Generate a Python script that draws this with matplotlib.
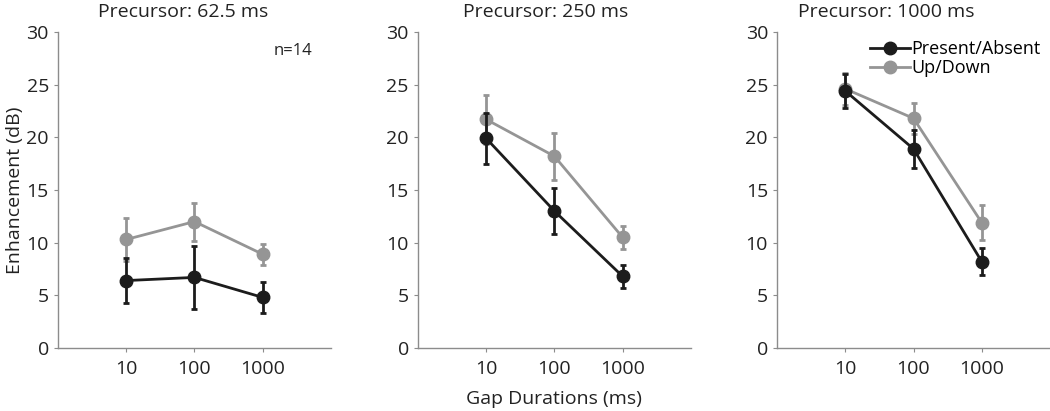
import matplotlib.pyplot as plt
from matplotlib.lines import Line2D

plt.rcParams['font.family'] = ['Open Sans', 'DejaVu Sans']

gaps = [10, 100, 1000]
titles = ['Precursor: 62.5 ms', 'Precursor: 250 ms', 'Precursor: 1000 ms']

# Present/Absent means and error bars per precursor
pa_mean = [[6.4, 6.7, 4.8], [19.9, 13.0, 6.8], [24.4, 18.9, 8.2]]
pa_err = [[2.1, 3.0, 1.5], [2.4, 2.2, 1.1], [1.6, 1.8, 1.25]]
# Up/Down means and error bars per precursor
ud_mean = [[10.3, 12.0, 8.9], [21.7, 18.2, 10.5], [24.6, 21.8, 11.9]]
ud_err = [[2.0, 1.8, 1.0], [2.3, 2.25, 1.1], [1.5, 1.5, 1.65]]

black = '#1c1c1c'
gray = '#959595'
spine = '#8c8c8c'
txt = '#222222'

fig = plt.figure(figsize=(10.5, 4.11), dpi=100)
lefts = [0.0552, 0.398, 0.740]
title_x = [0.46, 0.467, 0.40]

for i in range(3):
    ax = fig.add_axes([lefts[i], 0.1533, 0.26, 0.769])
    ax.errorbar(gaps, ud_mean[i], yerr=ud_err[i], color=gray, marker='o',
                markersize=9, lw=2, elinewidth=2, capsize=2, capthick=2,
                zorder=2)
    ax.errorbar(gaps, pa_mean[i], yerr=pa_err[i], color=black, marker='o',
                markersize=9, lw=2, elinewidth=2, capsize=2, capthick=2,
                zorder=3)
    ax.set_xscale('log')
    ax.set_xlim(1, 10000)
    ax.set_ylim(0, 30)
    ax.set_xticks(gaps)
    ax.set_xticklabels(['10', '100', '1000'])
    ax.minorticks_off()
    ax.set_yticks(range(0, 31, 5))
    for s in ['top', 'right']:
        ax.spines[s].set_visible(False)
    for s in ['left', 'bottom']:
        ax.spines[s].set_color(spine)
        ax.spines[s].set_linewidth(1)
    ax.tick_params(axis='both', colors=spine, labelcolor=txt,
                   labelsize=14, length=3)
    ax.tick_params(axis='x', pad=6)
    ax.set_title(titles[i], fontsize=14, color=txt, pad=11, x=title_x[i])
    if i == 0:
        ax.set_ylabel('Enhancement (dB)', fontsize=14, color=txt, labelpad=2)
        ax.text(0.86, 0.94, 'n=14', transform=ax.transAxes, fontsize=12,
                color=txt, ha='center', va='center')
    if i == 1:
        ax.set_xlabel('Gap Durations (ms)', fontsize=14, color=txt,
                      labelpad=8)
    if i == 2:
        handles = [Line2D([], [], color=black, marker='o', markersize=9, lw=2),
                   Line2D([], [], color=gray, marker='o', markersize=9, lw=2)]
        ax.legend(handles, ['Present/Absent', 'Up/Down'], loc='upper right',
                  frameon=False, fontsize=13, handlelength=2.2,
                  handletextpad=0.1, labelspacing=0.05, borderaxespad=0.1,
                  bbox_to_anchor=(1.0, 1.003))

fig.savefig('out.png', dpi=100)
